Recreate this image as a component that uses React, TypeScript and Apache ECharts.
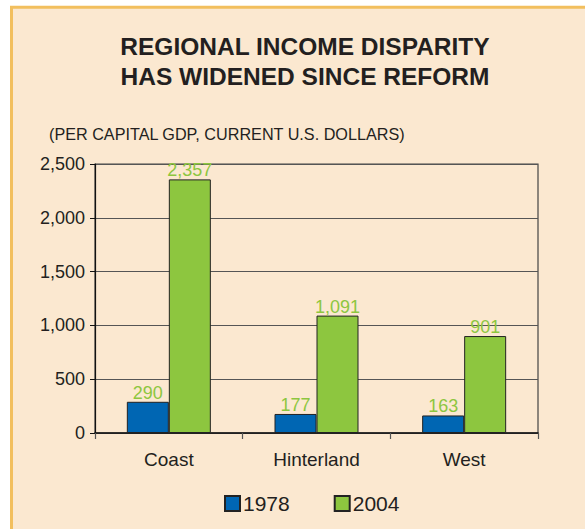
import React, { useEffect, useRef } from "react";
import * as echarts from "echarts";

const categories = ["Coast", "Hinterland", "West"];
const values1978 = [290, 177, 163];
const values2004 = [2357, 1091, 901];
const yTicks = { min: 0, max: 2500, interval: 500 };
const titleLines = ["REGIONAL INCOME DISPARITY", "HAS WIDENED SINCE REFORM"];
const subtitle = "(PER CAPITAL GDP, CURRENT U.S. DOLLARS)";

const fmt = (v: number) => v.toLocaleString("en-US");
const FONT = "Liberation Sans";
const INK = "#231f20";

export default function App() {
  const ref = useRef<HTMLDivElement>(null);
  useEffect(() => {
    if (!ref.current) return;
    const chart = echarts.init(ref.current, undefined, { renderer: "svg" });
    chart.setOption({
      animation: false,
      backgroundColor: "#ffffff",
      graphic: [
        {
          type: "rect",
          z: -10,
          shape: { x: 11.5, y: 7.2, width: 620, height: 560 },
          style: { fill: "#FBE8D0", stroke: "#F2BF5E", lineWidth: 3 },
          silent: true,
        },
      ],
      title: [
        {
          text: titleLines.join("\n"),
          left: 300,
          textAlign: "center",
          top: 26,
          textStyle: {
            fontFamily: FONT,
            fontWeight: "bold",
            fontSize: 24.5,
            lineHeight: 30,
            color: INK,
          },
        },
        {
          text: subtitle,
          left: 44,
          top: 121,
          textStyle: {
            fontFamily: FONT,
            fontWeight: "normal",
            fontSize: 16.2,
            color: INK,
          },
        },
      ],
      legend: {
        left: 219,
        top: 488,
        itemWidth: 15,
        itemHeight: 15,
        itemGap: 44,
        icon: "rect",
        textStyle: { fontFamily: FONT, fontSize: 21, color: INK, padding: [0, 0, 0, -2] },
        data: ["1978", "2004"],
      },
      grid: {
        left: 95,
        right: 47,
        top: 164,
        bottom: 96,
        show: true,
        borderColor: "#444",
        borderWidth: 1.2,
        backgroundColor: "transparent",
      },
      xAxis: {
        type: "category",
        data: categories,
        axisLine: { lineStyle: { color: "#111", width: 1.5 } },
        axisTick: { show: true, length: 6, lineStyle: { color: "#555", width: 1.2 } },
        axisLabel: {
          fontFamily: FONT,
          fontSize: 19,
          color: INK,
          margin: 17,
        },
      },
      yAxis: {
        type: "value",
        min: yTicks.min,
        max: yTicks.max,
        interval: yTicks.interval,
        axisLine: { show: true, lineStyle: { color: "#111", width: 1.2 } },
        axisTick: { show: true, length: 5, lineStyle: { color: "#111" } },
        splitLine: { lineStyle: { color: "#555", width: 1.2 } },
        axisLabel: {
          fontFamily: FONT,
          fontSize: 18,
          color: INK,
          margin: 10,
          formatter: (v: number) => fmt(v),
        },
      },
      series: [
        {
          name: "1978",
          type: "bar",
          data: values1978,
          barWidth: 42,
          barGap: "0%",
          itemStyle: { color: "#0066B3", borderColor: "#222", borderWidth: 1 },
          label: {
            show: true,
            position: "top",
            distance: 0,
            color: "#8DC63F",
            fontFamily: FONT,
            fontSize: 18,
            formatter: (p: any) => fmt(p.value),
          },
        },
        {
          name: "2004",
          type: "bar",
          data: values2004,
          barWidth: 42,
          barGap: "0%",
          itemStyle: { color: "#8DC63F", borderColor: "#222", borderWidth: 1 },
          label: {
            show: true,
            position: "top",
            distance: 0,
            color: "#8DC63F",
            fontFamily: FONT,
            fontSize: 18,
            formatter: (p: any) => fmt(p.value),
          },
        },
      ],
    });
    return () => chart.dispose();
  }, []);
  return (
    <div
      ref={ref}
      style={{ position: "fixed", left: 0, top: 0, width: 585, height: 529 }}
    />
  );
}
